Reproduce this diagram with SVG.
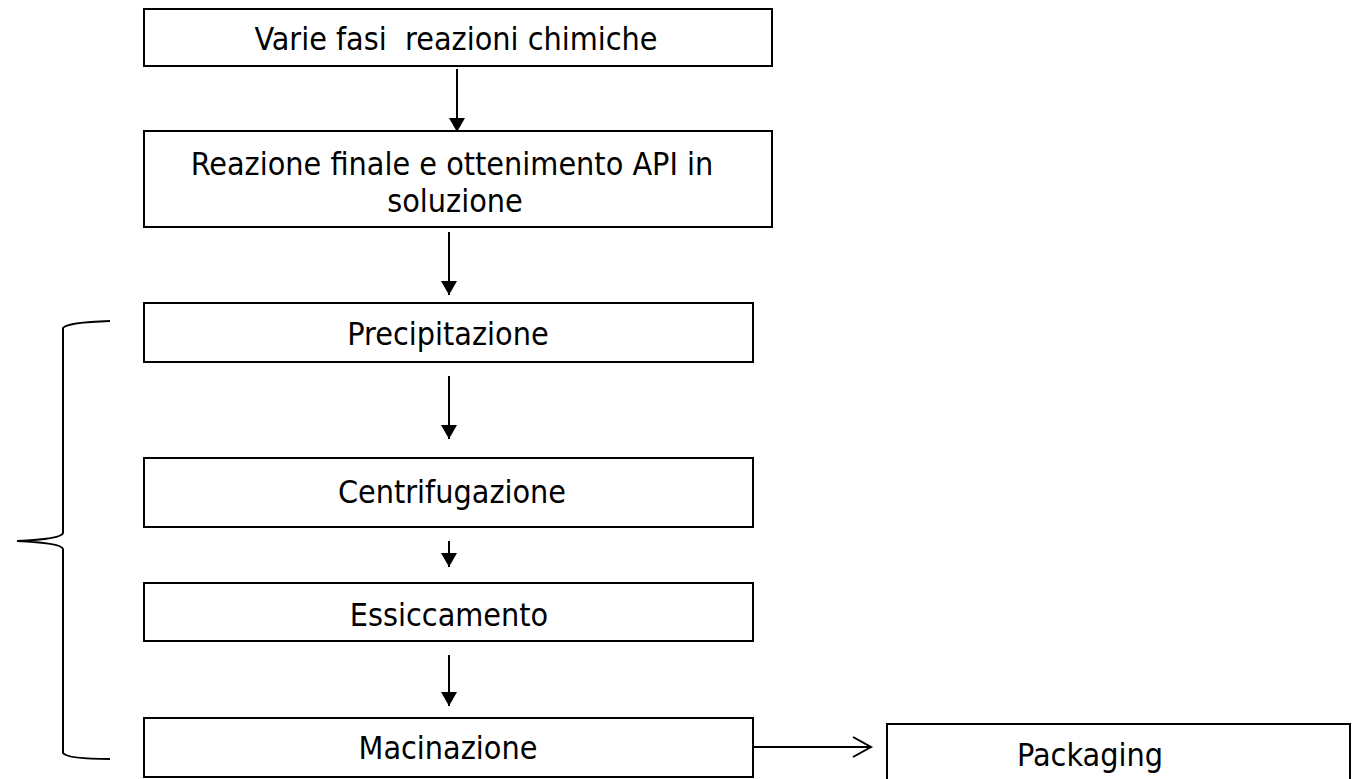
<svg xmlns="http://www.w3.org/2000/svg" width="1356" height="779" viewBox="0 0 1356 779">
  <style>
    .box { fill: #ffffff; stroke: #000000; stroke-width: 2; }
    .lbl { font-family: "DejaVu Sans Condensed", "DejaVu Sans", sans-serif; font-size: 32px; fill: #000000; text-anchor: middle; white-space: pre; }
    .flow { fill: none; stroke: #000000; stroke-width: 2; }
  </style>
  <defs>
    <marker id="solid" markerUnits="userSpaceOnUse" markerWidth="18" markerHeight="16" refX="14" refY="8" orient="auto">
      <path d="M0,0 L14,8 L0,16 Z" fill="#000000"/>
    </marker>
    <marker id="open" markerUnits="userSpaceOnUse" markerWidth="22" markerHeight="24" refX="19" refY="11" orient="auto">
      <path d="M1,1 L19,11 L1,21" fill="none" stroke="#000000" stroke-width="2"/>
    </marker>
  </defs>

  <rect width="1356" height="779" fill="#ffffff"/>

  <g id="brace">
    <path class="flow" d="M110,321 C80,322 66,324 63,328 L63,533 C62,538 40,540 17,541 C40,542 62,544 63,549 L63,753 C66,757 80,759 110,759"/>
  </g>

  <g id="connectors">
    <line class="flow" x1="457" y1="69" x2="457" y2="132" marker-end="url(#solid)"/>
    <line class="flow" x1="449" y1="232" x2="449" y2="295" marker-end="url(#solid)"/>
    <line class="flow" x1="449" y1="376" x2="449" y2="439" marker-end="url(#solid)"/>
    <line class="flow" x1="449" y1="541" x2="449" y2="567" marker-end="url(#solid)"/>
    <line class="flow" x1="449" y1="655" x2="449" y2="706" marker-end="url(#solid)"/>
    <line class="flow" x1="753" y1="747" x2="871" y2="747" marker-end="url(#open)"/>
  </g>

  <g id="n-varie">
    <rect class="box" x="144" y="9" width="628" height="57"/>
    <text class="lbl" x="456" y="50" xml:space="preserve">Varie fasi  reazioni chimiche</text>
  </g>
  <g id="n-reazione">
    <rect class="box" x="144" y="131" width="628" height="96"/>
    <text class="lbl" x="452" y="175">Reazione finale e ottenimento API in</text>
    <text class="lbl" x="455" y="212">soluzione</text>
  </g>
  <g id="n-precipitazione">
    <rect class="box" x="144" y="303" width="609" height="59"/>
    <text class="lbl" x="448" y="345">Precipitazione</text>
  </g>
  <g id="n-centrifugazione">
    <rect class="box" x="144" y="458" width="609" height="69"/>
    <text class="lbl" x="452" y="503">Centrifugazione</text>
  </g>
  <g id="n-essiccamento">
    <rect class="box" x="144" y="583" width="609" height="58"/>
    <text class="lbl" x="449" y="626">Essiccamento</text>
  </g>
  <g id="n-macinazione">
    <rect class="box" x="144" y="718" width="609" height="59"/>
    <text class="lbl" x="448" y="759">Macinazione</text>
  </g>
  <g id="n-packaging">
    <rect class="box" x="887" y="724" width="463" height="70"/>
    <text class="lbl" x="1090" y="766">Packaging</text>
  </g>
</svg>
